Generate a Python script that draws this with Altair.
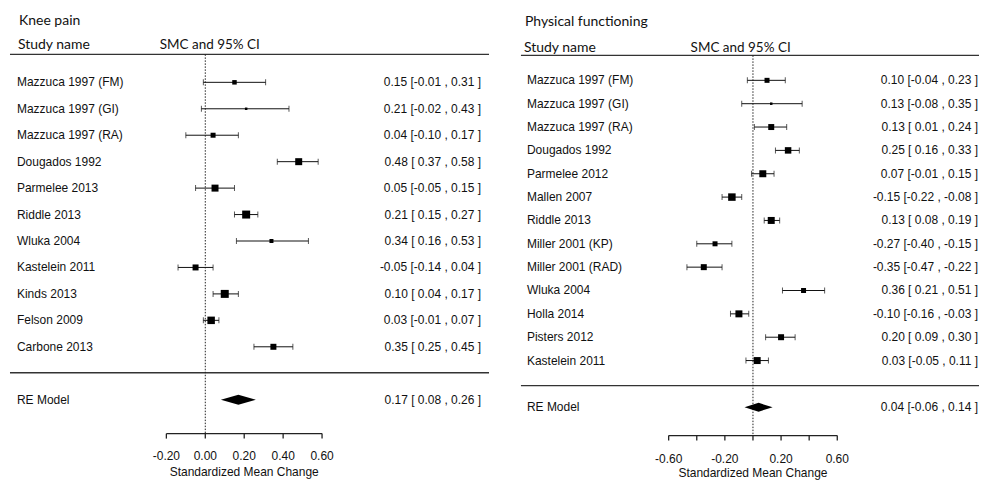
import altair as alt
import pandas as pd

# ---------------- Knee pain ----------------
kp_names = ["Mazzuca 1997 (FM)", "Mazzuca 1997 (GI)", "Mazzuca 1997 (RA)", "Dougados 1992",
            "Parmelee 2013", "Riddle 2013", "Wluka 2004", "Kastelein 2011", "Kinds 2013",
            "Felson 2009", "Carbone 2013"]
kp_est = [0.15, 0.21, 0.04, 0.48, 0.05, 0.21, 0.34, -0.05, 0.10, 0.03, 0.35]
kp_lo = [-0.01, -0.02, -0.10, 0.37, -0.05, 0.15, 0.16, -0.14, 0.04, -0.01, 0.25]
kp_hi = [0.31, 0.43, 0.17, 0.58, 0.15, 0.27, 0.53, 0.04, 0.17, 0.07, 0.45]
kp_weight = [4.5, 2.5, 5, 7, 7, 8, 4, 6, 8, 7.5, 6]
kp_re = [0.17, 0.08, 0.26]
kp_ticks = [-0.2, 0.0, 0.2, 0.4, 0.6]
kp_tick_labels = ["-0.20", "0.00", "0.20", "0.40", "0.60"]

# ---------------- Physical functioning ----------------
pf_names = ["Mazzuca 1997 (FM)", "Mazzuca 1997 (GI)", "Mazzuca 1997 (RA)", "Dougados 1992",
            "Parmelee 2012", "Mallen 2007", "Riddle 2013", "Miller 2001 (KP)", "Miller 2001 (RAD)",
            "Wluka 2004", "Holla 2014", "Pisters 2012", "Kastelein 2011"]
pf_est = [0.10, 0.13, 0.13, 0.25, 0.07, -0.15, 0.13, -0.27, -0.35, 0.36, -0.10, 0.20, 0.03]
pf_lo = [-0.04, -0.08, 0.01, 0.16, -0.01, -0.22, 0.08, -0.40, -0.47, 0.21, -0.16, 0.09, -0.05]
pf_hi = [0.23, 0.35, 0.24, 0.33, 0.15, -0.08, 0.19, -0.15, -0.22, 0.51, -0.03, 0.30, 0.11]
pf_weight = [5, 2.5, 6, 6.5, 7, 7.5, 7, 5, 6, 5, 7, 6, 7]
pf_re = [0.04, -0.06, 0.14]
pf_ticks = [-0.6, -0.4, -0.2, 0.0, 0.2, 0.4, 0.6]
pf_tick_labels = ["-0.60", "", "-0.20", "", "0.20", "", "0.60"]

NAME_FONT = "Liberation Sans"
HEAD_FONT = "Lato"
INK = "#111111"


def fmt(e, lo, hi, wlo, whi):
    return f"{e:.2f} [{lo:{wlo}.2f} , {hi:{whi}.2f} ]"


def panel(title, names, est, lo, hi, weight, re, ticks, tick_labels, lay):
    n = len(names)
    wlo = max(len(f"{v:.2f}") for v in lo + [re[1]])
    whi = max(len(f"{v:.2f}") for v in hi + [re[2]])
    rows = pd.DataFrame({
        "row": list(range(n)),
        "name": names,
        "est": est,
        "lo": lo,
        "hi": hi,
        "area": [w * w for w in weight],
        "label": [fmt(e, a, b, wlo, whi) for e, a, b in zip(est, lo, hi)],
    })
    re_row = lay["re_row"]
    re_df = pd.DataFrame({"row": [re_row], "name": ["RE Model"],
                          "label": [fmt(re[0], re[1], re[2], wlo, whi)]})
    d = lay["dh"]
    dia = pd.DataFrame({"x": [re[1], re[0], re[2]],
                        "top": [re_row, re_row - d, re_row],
                        "bot": [re_row, re_row + d, re_row]})
    tk = pd.DataFrame({"t": ticks, "lab": tick_labels})
    ax = pd.DataFrame({"a": [ticks[0]], "b": [ticks[-1]], "m": [(ticks[0] + ticks[-1]) / 2],
                       "z": [0.0]})
    one = pd.DataFrame({"k": [0]})

    xs = alt.Scale(domain=lay["xdom"], nice=False, zero=False)
    ys = alt.Scale(domain=lay["ydom"], nice=False, zero=False, reverse=True)

    def X(f):
        return alt.X(f, type="quantitative", scale=xs, axis=None)

    def Y(f):
        return alt.Y(f, type="quantitative", scale=ys, axis=None)

    layers = []
    # header texts and lines
    layers.append(alt.Chart(one).mark_text(align="left", baseline="middle", font=HEAD_FONT,
                                           fontSize=14, color=INK, text=title)
                  .encode(x=alt.value(lay["tx"]), y=alt.value(lay["ty"])))
    layers.append(alt.Chart(one).mark_text(align="left", baseline="middle", font=HEAD_FONT,
                                           fontSize=14, color=INK, text="Study name")
                  .encode(x=alt.value(lay["sx"]), y=alt.value(lay["hy"])))
    layers.append(alt.Chart(one).mark_text(align="left", baseline="middle", font=HEAD_FONT,
                                           fontSize=13.5, color=INK, text="SMC and 95% CI")
                  .encode(x=alt.value(lay["cx"]), y=alt.value(lay["hy"])))
    layers.append(alt.Chart(one).mark_rule(color="#333333", strokeWidth=1.3)
                  .encode(x=alt.value(lay["lx0"]), x2=alt.value(lay["lx1"]), y=alt.value(lay["l1"])))
    layers.append(alt.Chart(one).mark_rule(color="#333333", strokeWidth=1.3)
                  .encode(x=alt.value(lay["lx0"]), x2=alt.value(lay["lx1"]), y=alt.value(lay["l2"])))
    # dotted zero line
    layers.append(alt.Chart(ax).mark_rule(color="#222222", strokeWidth=1, strokeDash=[1.5, 1.5])
                  .encode(x=X("z"), y=alt.value(lay["l1"]), y2=alt.value(lay["ay"])))
    # CI lines
    layers.append(alt.Chart(rows).mark_rule(color=INK, strokeWidth=1)
                  .encode(x=X("lo"), x2="hi", y=Y("row")))
    for f in ["lo", "hi"]:
        layers.append(alt.Chart(rows).mark_tick(color=INK, orient="vertical", size=6, thickness=1)
                      .encode(x=X(f), y=Y("row")))
    # squares
    layers.append(alt.Chart(rows).mark_square(color="black", filled=True, opacity=1)
                  .encode(x=X("est"), y=Y("row"),
                          size=alt.Size("area:Q", scale=None, legend=None)))
    # diamond
    layers.append(alt.Chart(dia).mark_area(color="black", orient="vertical")
                  .encode(x=X("x"), y=Y("top"), y2="bot"))
    # study names and values
    for df in [rows, re_df]:
        layers.append(alt.Chart(df).mark_text(align="left", baseline="middle", font=NAME_FONT,
                                              fontSize=12, color=INK)
                      .encode(x=alt.value(lay["nx"]), y=Y("row"), text="name"))
        layers.append(alt.Chart(df).mark_text(align="right", baseline="middle", font=NAME_FONT,
                                              fontSize=12, color=INK)
                      .encode(x=alt.value(lay["vx"]), y=Y("row"), text="label"))
    # bottom axis
    layers.append(alt.Chart(ax).mark_rule(color="#222222", strokeWidth=1.3)
                  .encode(x=X("a"), x2="b", y=alt.value(lay["ay"])))
    layers.append(alt.Chart(tk).mark_rule(color="#222222", strokeWidth=1.3)
                  .encode(x=X("t"), y=alt.value(lay["ay"]), y2=alt.value(lay["ay"] + 5)))
    layers.append(alt.Chart(tk).mark_text(align="center", baseline="middle", font=NAME_FONT,
                                          fontSize=12, color=INK)
                  .encode(x=X("t"), y=alt.value(lay["ly"]), text="lab"))
    layers.append(alt.Chart(ax).mark_text(align="center", baseline="bottom", font=NAME_FONT,
                                          fontSize=12, color=INK, text="Standardized Mean Change")
                  .encode(x=X("m"), y=alt.value(lay["aty"])))

    return alt.layer(*layers).properties(width=lay["w"], height=lay["h"])


kp_lay = dict(w=482, h=472,
              xdom=[-197.7 / 195, (482 - 197.7) / 195],
              ydom=[-74 / 26.5, (472 - 74) / 26.5],
              re_row=12, dh=0.19,
              tx=11, ty=13, sx=10, cx=152, hy=37, lx0=2, lx1=482, l1=46, l2=365,
              nx=9, vx=474, ay=426, ly=448, aty=471)
pf_lay = dict(w=486, h=472,
              xdom=[-259.5 / 140.8, (486 - 259.5) / 140.8],
              ydom=[-72 / 23.4, 400 / 23.4],
              re_row=14, dh=0.19,
              tx=31, ty=14, sx=30, cx=197, hy=40, lx0=27, lx1=486, l1=47, l2=378,
              nx=33, vx=485, ay=428, ly=451, aty=472)

left = panel("Knee pain", kp_names, kp_est, kp_lo, kp_hi, kp_weight, kp_re,
             kp_ticks, kp_tick_labels, kp_lay)
right = panel("Physical functioning", pf_names, pf_est, pf_lo, pf_hi, pf_weight, pf_re,
              pf_ticks, pf_tick_labels, pf_lay)

chart = (alt.hconcat(left, right, spacing=4)
         .properties(padding=0, background="white")
         .configure_view(strokeWidth=0))

chart.save("out.html", embed_options={"renderer": "svg", "actions": False})
